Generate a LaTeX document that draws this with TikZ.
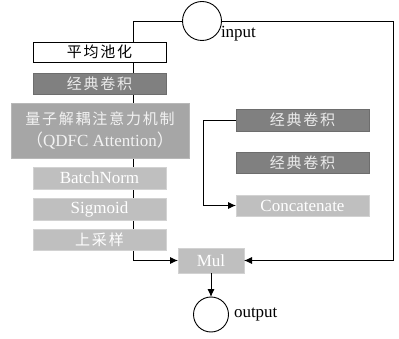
\documentclass[tikz,border=0pt]{standalone}
\usepackage{fontspec}
\setmainfont{Liberation Serif}
\newfontfamily\cjk[LetterSpace=12]{Noto Sans CJK SC}
\usetikzlibrary{arrows.meta,backgrounds}
\definecolor{darkbox}{HTML}{808080}
\definecolor{midbox}{HTML}{A6A6A6}
\definecolor{lightbox}{HTML}{BFBFBF}
\begin{document}
\begin{tikzpicture}[x=1pt,y=-1pt,
  every node/.style={inner sep=0pt, outer sep=0pt},
  boxw/.style={draw=black, line width=0.9pt, fill=white, minimum width=133pt, minimum height=20pt, font=\fontsize{15}{18}\selectfont\cjk},
  boxd/.style={draw=darkbox!85!black, line width=0.6pt, fill=darkbox, text=white!92!black, minimum width=133pt, minimum height=21pt, font=\fontsize{15}{18}\selectfont\cjk},
  boxm/.style={draw=midbox!80!white, line width=0.6pt, fill=midbox, text=white!95!black, minimum width=178pt, minimum height=55pt, align=center},
  boxl/.style={draw=lightbox!70!white, line width=0.6pt, fill=lightbox, text=white, minimum width=133pt, minimum height=22pt, font=\fontsize{17}{18}\selectfont},
  circ/.style={draw=black, line width=0.9pt, circle, fill=white},
  conn/.style={draw=black, line width=0.9pt},
  arr/.style={conn, -{Latex[length=8pt,width=7pt]}},
  lbl/.style={font=\fontsize{17}{18}\selectfont, anchor=west}
]
\useasboundingbox (0,0) rectangle (399,339);
% input / output
\node[circ, minimum size=39pt] (in) at (202,21) {};
\node[lbl] (inlbl) at (221,34) {input};
\node[circ, minimum size=35pt] (out) at (211,314.5) {};
\node[lbl] (outlbl) at (234,315) {output};
% left column
\node[boxw] (pool) at (99.5,52) {平均池化};
\node[boxd] (convL) at (99.5,83.5) {经典卷积};
\node[boxm] (qdfc) at (100,130.5) {{\fontsize{15}{23}\selectfont\cjk 量子解耦注意力机制}\\[5pt]{\fontsize{17}{18}\selectfont{\cjk （}QDFC Attention{\cjk ）}}};
\node[boxl] (bn) at (99.5,178) {BatchNorm};
\node[boxl] (sig) at (99.5,209) {Sigmoid};
\node[boxl, minimum height=21pt, font=\fontsize{15}{18}\selectfont\cjk] (up) at (99.5,239.5) {上采样};
% right column
\node[boxd, minimum height=22pt] (convR1) at (302.5,120) {经典卷积};
\node[boxd, minimum height=21pt] (convR2) at (302.5,163) {经典卷积};
\node[boxl, minimum height=21pt] (cat) at (302.5,205.5) {Concatenate};
% Mul
\node[boxl, minimum width=66pt, minimum height=25pt] (mul) at (211,260.5) {Mul};
% bus coordinates
\coordinate (lbus) at (133,0);
\coordinate (rbus) at (393,0);
\coordinate (cbus) at (203,0);
\begin{scope}[on background layer]
\draw[arr] (in.west) -| (lbus |- mul.west) -- (mul.west);
\end{scope}
\draw[arr] (in.east) -| (rbus |- mul.east) -- (mul.east);
\draw[arr] (convR1.west) -| (cbus |- cat.west) -- (cat.west);
\draw[arr] (mul.south) -- (out.north);
\end{tikzpicture}
\end{document}
